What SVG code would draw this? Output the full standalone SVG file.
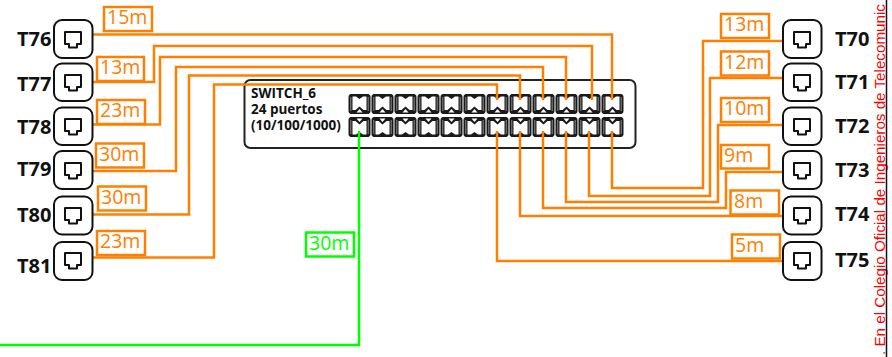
<svg xmlns="http://www.w3.org/2000/svg" width="892" height="357" viewBox="0 0 892 357">
<style>
.box{fill:#fff;stroke:#111;stroke-width:2}
.ico{fill:#fff;stroke:#111;stroke-width:2;stroke-linejoin:round}
.nt{font:bold 20px "Open Sans",sans-serif;fill:#111}
.o{fill:none;stroke:#ff8000;stroke-width:2.500}
.g{fill:none;stroke:#00ff00;stroke-width:2.500}
.lb{fill:none;stroke-width:2.500}
.lt{font:19.500px "Open Sans",sans-serif}
.sw{font:bold 13.500px "Open Sans",sans-serif;fill:#111}
.ph{fill:#1a1a1a;stroke:#1a1a1a;stroke-width:1;stroke-linejoin:round}
.pw{fill:#fff}
.pg{fill:none;stroke:#aaa;stroke-width:0.800}
</style>
<defs>
<path id="icon" class="ico" d="M-8,-8H8V4H4V7.500H-4V4H-8Z"/>
<g id="pt">
<path class="ph" d="M1,2.500Q1,0.500 3,0.500H20Q22,0.500 22,2.500V17.500Q22,19.500 20,19.500H3Q1,19.500 1,17.500Z"/>
<path class="pw" d="M4.500,2.500H8L11.500,5L15,2.500H18.500V16H15.500L11.500,12.500L7.500,16H4.500Z"/>
<path class="pg" d="M2.800,3V17M20.200,3V17"/>
<path class="pw" d="M8.500,18.500L11.500,15L14.500,18.500Z"/>
</g>
<g id="pb">
<path class="ph" d="M1,2.500Q1,0.500 3,0.500H20Q22,0.500 22,2.500V17.500Q22,19.500 20,19.500H3Q1,19.500 1,17.500Z"/>
<path class="pw" d="M4.500,4H7.500L11.500,7.500L15.500,4H18.500V17.500H15L11.500,15L8,17.500H4.500Z"/>
<path class="pg" d="M2.800,3V17M20.200,3V17"/>
<path class="pw" d="M8.500,1.500L11.500,5L14.500,1.500Z"/>
</g>
</defs>
<rect width="892" height="357" fill="#fff"/>
<g id="margin-note">
<text transform="translate(885 355) rotate(-90)" font-family="'Liberation Sans',sans-serif" font-size="15.200" fill="#ff0000">. En el Colegio Oficial de Ingenieros de Telecomunic</text>
<line x1="886.500" y1="0" x2="886.500" y2="357" stroke="#111" stroke-width="1.500"/>
</g>
<g id="switch-6">
<rect x="244.500" y="80" width="391" height="68" rx="6" fill="#fff" stroke="#222" stroke-width="2"/>
<text class="sw"><tspan x="251" y="98">SWITCH_6</tspan><tspan x="251" y="114">24 puertos</tspan><tspan x="251" y="130">(10/100/1000)</tspan></text>
<g id="ports">
<use href="#pt" x="348" y="94"/><use href="#pt" x="371" y="94"/><use href="#pt" x="394" y="94"/><use href="#pt" x="417" y="94"/><use href="#pt" x="440" y="94"/><use href="#pt" x="463" y="94"/><use href="#pt" x="486" y="94"/><use href="#pt" x="509" y="94"/><use href="#pt" x="532" y="94"/><use href="#pt" x="555" y="94"/><use href="#pt" x="578" y="94"/><use href="#pt" x="601" y="94"/>
<use href="#pb" x="348" y="117"/><use href="#pb" x="371" y="117"/><use href="#pb" x="394" y="117"/><use href="#pb" x="417" y="117"/><use href="#pb" x="440" y="117"/><use href="#pb" x="463" y="117"/><use href="#pb" x="486" y="117"/><use href="#pb" x="509" y="117"/><use href="#pb" x="532" y="117"/><use href="#pb" x="555" y="117"/><use href="#pb" x="578" y="117"/><use href="#pb" x="601" y="117"/>
</g>
</g>
<g id="connectors">
<path class="o" d="M92,34.500H612V100"/>
<path class="o" d="M92,82H154V46H592V100"/>
<path class="o" d="M92,124.500H160V57H566V100"/>
<path class="o" d="M92,171H176V67H543V100"/>
<path class="o" d="M92,214.500H189V75.500H520V100"/>
<path class="o" d="M92,257.500H214V84.500H497V100"/>
<path class="o" d="M783,41H703V188H612V131"/>
<path class="o" d="M783,78H710V196H589V131"/>
<path class="o" d="M783,125H718V202H566V131"/>
<path class="o" d="M783,172H726V208H543V131"/>
<path class="o" d="M783,216H520V131"/>
<path class="o" d="M783,261H497V131"/>
<path class="g" d="M359,131V345H0"/>
</g>
<g id="labels">
<g stroke="#ff8000" class="lb">
<rect x="104" y="7" width="48" height="24"/>
<rect x="97" y="57" width="47" height="24"/>
<rect x="97" y="100" width="48" height="24"/>
<rect x="96" y="143.500" width="48" height="24"/>
<rect x="98" y="186.500" width="48" height="24"/>
<rect x="97" y="231" width="48" height="24"/>
<rect x="721" y="14" width="48" height="24"/>
<rect x="721" y="51.500" width="48" height="24"/>
<rect x="721" y="98" width="48" height="24"/>
<rect x="721" y="145" width="48" height="23.500"/>
<rect x="730.500" y="190.500" width="48.500" height="24"/>
<rect x="732" y="234.500" width="48" height="24"/>
</g>
<g fill="#ff8000" class="lt">
<text x="107" y="24">15m</text>
<text x="100" y="74">13m</text>
<text x="100" y="117">23m</text>
<text x="99" y="161">30m</text>
<text x="101" y="204">30m</text>
<text x="100" y="248">23m</text>
<text x="724" y="31">13m</text>
<text x="724" y="69">12m</text>
<text x="724" y="115">10m</text>
<text x="724" y="162">9m</text>
<text x="734" y="208">8m</text>
<text x="735" y="252">5m</text>
</g>
<rect x="306" y="232.500" width="48" height="24" fill="none" stroke="#00ff00" stroke-width="2.500"/>
<text x="309" y="250" class="lt" fill="#00ff00">30m</text>
</g>
<g id="T76"><rect class="box" x="54" y="20" width="38.500" height="38" rx="8"/><use href="#icon" x="73" y="40"/><text class="nt" x="17" y="46">T76</text></g>
<g id="T77"><rect class="box" x="54" y="63.500" width="38.500" height="37.500" rx="8"/><use href="#icon" x="73" y="83"/><text class="nt" x="17" y="91">T77</text></g>
<g id="T78"><rect class="box" x="54" y="107.500" width="38.500" height="37.500" rx="8"/><use href="#icon" x="73" y="127"/><text class="nt" x="17" y="134">T78</text></g>
<g id="T79"><rect class="box" x="54" y="151" width="38.500" height="38" rx="8"/><use href="#icon" x="73" y="171"/><text class="nt" x="17" y="176">T79</text></g>
<g id="T80"><rect class="box" x="54" y="196.500" width="38.500" height="38" rx="8"/><use href="#icon" x="73" y="216"/><text class="nt" x="17" y="222">T80</text></g>
<g id="T81"><rect class="box" x="54" y="242" width="38.500" height="38" rx="8"/><use href="#icon" x="73" y="261"/><text class="nt" x="17" y="273">T81</text></g>
<g id="T70"><rect class="box" x="783" y="20" width="38.500" height="38" rx="8"/><use href="#icon" x="802" y="40"/><text class="nt" x="835" y="46">T70</text></g>
<g id="T71"><rect class="box" x="783" y="63.500" width="38.500" height="37.500" rx="8"/><use href="#icon" x="802" y="83"/><text class="nt" x="835" y="89">T71</text></g>
<g id="T72"><rect class="box" x="783" y="107.500" width="38.500" height="37.500" rx="8"/><use href="#icon" x="802" y="127"/><text class="nt" x="835" y="133">T72</text></g>
<g id="T73"><rect class="box" x="783" y="151" width="38.500" height="38" rx="8"/><use href="#icon" x="802" y="171"/><text class="nt" x="835" y="177">T73</text></g>
<g id="T74"><rect class="box" x="783" y="196.500" width="38.500" height="38" rx="8"/><use href="#icon" x="802" y="216"/><text class="nt" x="835" y="221">T74</text></g>
<g id="T75"><rect class="box" x="783" y="242" width="38.500" height="38" rx="8"/><use href="#icon" x="802" y="261"/><text class="nt" x="835" y="267">T75</text></g>
</svg>
